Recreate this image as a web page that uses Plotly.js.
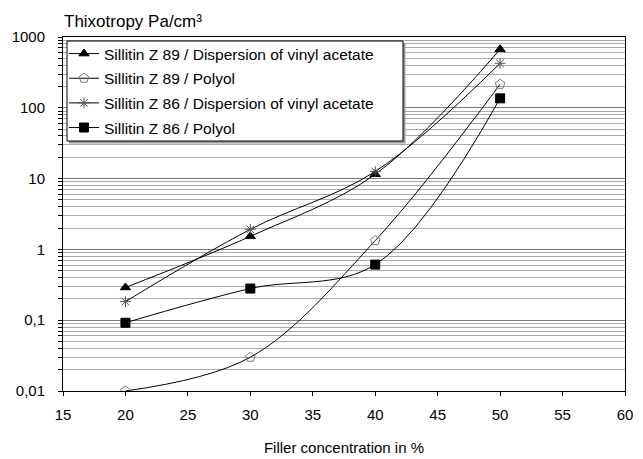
<!DOCTYPE html>
<html><head><meta charset="utf-8">
<script src="https://cdn.plot.ly/plotly-3.0.1.min.js"></script>
<style>body{margin:0;background:#fff}#c{width:643px;height:459px}</style>
</head><body><div id="c"></div>
<script>
const xVals = [20, 30, 40, 50];
const z89Vinyl = [0.29, 1.53, 11.5, 670];
const z89Polyol = [0.01, 0.03, 1.33, 215];
const z86Vinyl = [0.183, 1.92, 12.6, 425];
const z86Polyol = [0.092, 0.28, 0.61, 136];
const names = [
  'Sillitin Z 89 / Dispersion of vinyl acetate',
  'Sillitin Z 89 / Polyol',
  'Sillitin Z 86 / Dispersion of vinyl acetate',
  'Sillitin Z 86 / Polyol'
];
const yTickVals = [0.01, 0.1, 1, 10, 100, 1000];
const yTickText = ['0,01', '0,1', '1', '10', '100', '1000'];
const xTickVals = [15, 20, 25, 30, 35, 40, 45, 50, 55, 60];

const minorVals = [];
for (let e = -2; e < 3; e++) for (let m = 2; m <= 9; m++) minorVals.push(m * Math.pow(10, e));

function tr(y, name, sym, col, size, g) {
  return {x: xVals, y: y, name: name, type: 'scatter', mode: 'lines+markers',
    legendgroup: g,
    line: {shape: 'spline', smoothing: 1, color: '#000', width: 1},
    marker: {symbol: sym, size: size, color: col, line: {color: col, width: 1}}};
}
const data = [
  tr(z89Vinyl, names[0], 'triangle-up', '#000', 9, 'a'),
  tr(z89Polyol, names[1], 'pentagon-open', '#777', 10, 'b'),
  tr(z86Vinyl, names[2], 'asterisk-open', '#555', 9, 'c'),
  tr(z86Polyol, names[3], 'square', '#000', 9, 'd')
];
const FAM = 'Liberation Sans, Arial, sans-serif';
const font = {family: FAM, size: 15, color: '#000'};
const L = 63, R = 18, T = 37, B = 68;
const PW = 643 - L - R, PH = 459 - T - B;
const px = v => (v - L) / PW;
const py = v => 1 - (v - T) / PH;
const layout = {
  width: 643, height: 459,
  margin: {l: L, r: R, t: T, b: B},
  paper_bgcolor: '#fff', plot_bgcolor: '#fff',
  font: font,
  showlegend: true,
  title: {text: 'Thixotropy Pa/cm³', font: {family: FAM, size: 17, color: '#000'},
    xref: 'container', yref: 'container', x: 64/643, xanchor: 'left', y: 1 - 21/459, yanchor: 'middle'},
  xaxis: {range: [15, 60], tickvals: xTickVals, ticks: 'outside', ticklen: 4, tickcolor: '#000',
    ticklabelstandoff: 6,
    showline: true, linecolor: '#000', mirror: true, showgrid: false, zeroline: false,
    title: {text: 'Filler concentration in %', font: font, standoff: 20}},
  yaxis: {type: 'log', range: [-2, 3], tickvals: yTickVals, ticktext: yTickText,
    ticks: 'outside', ticklen: 4, tickcolor: '#000', ticklabelstandoff: 10,
    showline: true, linecolor: '#000', mirror: true, showgrid: true, gridcolor: '#7a7a7a', gridwidth: 1,
    minor: {tickvals: minorVals, ticks: 'outside', ticklen: 4, tickcolor: '#000', showgrid: true, gridcolor: '#aaaaaa', gridwidth: 1}},
  legend: {x: px(64), y: py(37), xanchor: 'left', yanchor: 'top', bgcolor: 'rgba(0,0,0,0)',
    borderwidth: 0, font: {family: FAM, size: 15.5, color: '#000'}, tracegroupgap: 1.5, itemwidth: 30},
  shapes: [
    {type: 'rect', xref: 'paper', yref: 'paper', x0: px(69), x1: px(405.5), y0: py(143.5), y1: py(43),
      fillcolor: '#9a9a9a', line: {width: 0}, layer: 'above'},
    {type: 'rect', xref: 'paper', yref: 'paper', x0: px(67), x1: px(403), y0: py(141), y1: py(41),
      fillcolor: '#fff', line: {width: 1, color: '#000'}, layer: 'above'}
  ]
};
Plotly.newPlot('c', data, layout, {displayModeBar: false, staticPlot: true});
</script></body></html>
